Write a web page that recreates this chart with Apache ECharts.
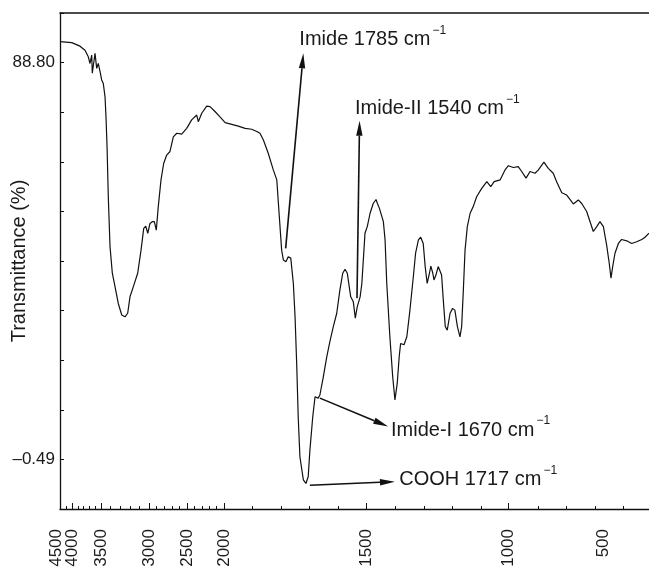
<!DOCTYPE html>
<html><head><meta charset="utf-8">
<script src="https://cdn.jsdelivr.net/npm/echarts@6/dist/echarts.min.js"></script>
<style>html,body{margin:0;padding:0;background:#fff}#c{width:649px;height:567px}</style>
</head><body><div id="c"></div>
<script>
// ---- data (wavenumber in cm^-1 as read against the printed axis labels) ----
const wavenumber = [4500,4429,4012,3862,3776,3719,3690,3660,3650,3603,3574,3547,3517,3493,3476,3458,3448,3437,3424,3406,3382,3354,3320,3284,3250,3222,3198,3163,3118,3083,3055,3034,3013,2987,2957,2930,2904,2878,2842,2807,2767,2724,2680,2635,2570,2504,2437,2369,2347,2301,2234,2189,2122,2054,1996,1973,1950,1926,1903,1885,1874,1862,1845,1827,1815,1807,1798,1792,1783,1775,1766,1757,1751,1745,1740,1734,1722,1713,1705,1699,1689,1681,1670,1664,1652,1640,1629,1617,1605,1594,1584,1576,1568,1556,1547,1540,1533,1523,1517,1506,1498,1488,1477,1467,1462,1455,1450,1441,1435,1429,1418,1408,1400,1392,1385,1380,1373,1368,1358,1347,1335,1327,1317,1309,1300,1293,1286,1278,1273,1266,1262,1255,1247,1241,1235,1229,1222,1215,1205,1196,1188,1179,1170,1164,1158,1152,1144,1134,1123,1111,1093,1075,1061,1049,1028,1011,998,972,946,928,905,884,858,841,811,788,762,744,717,691,665,656,630,612,586,568,551,533,516,498,481,467,458,449,437,419,402,375,349,323,296,279,258];
const transmittance = [93.5,93.5,93.3,92.5,91.6,90.1,88.6,90.5,86.4,90.9,87.5,88.6,86.8,84.9,84.1,81.1,76.6,69.9,58.6,47.4,41.4,38.4,34.6,32.0,31.6,32.4,36.1,38.4,41.4,46.6,51.5,52.0,50.4,52.6,53.0,53.0,51.1,56.4,62.4,66.1,68.0,68.8,72.1,72.9,72.7,74.0,75.9,77.0,75.5,77.4,79.0,78.9,77.8,76.6,75.3,74.9,74.5,74.0,73.8,73.3,72.9,71.4,68.4,64.6,62.4,54.9,46.6,44.4,44.0,45.1,44.8,39.1,31.6,20.4,9.1,0.1,-5.1,-5.9,-4.4,1.6,9.1,13.6,13.3,14.0,18.1,22.6,26.0,29.4,32.4,37.6,41.4,42.3,41.4,36.1,35.0,31.3,33.9,36.1,39.1,50.4,51.9,54.9,57.1,58.0,57.1,56.0,55.6,53.0,48.9,39.1,27.1,18.1,12.9,16.6,22.6,25.6,26.0,25.3,27.1,33.1,40.6,45.9,48.9,49.5,48.1,42.9,39.1,41.4,43.0,41.4,39.9,41.0,42.9,43.3,41.0,35.4,29.4,28.6,32.4,33.5,33.1,29.4,27.1,29.4,37.6,46.6,51.9,54.9,56.4,58.6,60.5,62.0,60.9,62.0,62.4,64.6,65.6,65.2,65.4,64.3,62.8,64.3,63.9,64.6,66.4,65.0,63.9,62.0,59.5,59.0,57.5,57.0,57.9,57.1,55.3,53.0,50.8,51.9,53.0,51.9,47.8,43.6,40.3,42.9,45.9,48.1,49.0,48.7,48.1,48.5,49.0,49.5,50.4];

const xTickValues = [4500,4000,3500,3000,2500,2000,1500,1000,500];
const xTickLabels = ['4500','4000','3500','3000','2500','2000','1500','1000','500'];
const yTickValues = [88.80,-0.49];
const yTickLabels = ['88.80','\u20130.49'];
const yAxisTitle = 'Transmittance (%)';

const annotationLabels = ['Imide 1785 cm','Imide-II 1540 cm','Imide-I 1670 cm','COOH 1717 cm'];
const annotationSup = '\u22121';
const annotationTextAt = [[1736,93.9],[1541,78.5],[1414,6.1],[1385,-5.1]];
const arrowFrom = [[1784,47.0],[1534,35.8],[1664,13.3],[1699,-6.3]];
const arrowTo = [[1722,90.9],[1525,75.7],[1424,6.9],[1400,-5.5]];

// ---- broken (piecewise) wavenumber scale of the printed axis ----
const wnStops   = [4500,4000,3500,3000,2500,2000,1500,1000,500,258];
const axisStops = [0,12,41,89,127,164,306.7,448,543,589];
function toAxis(w){
  for(let i=0;i<wnStops.length-1;i++){
    const a=wnStops[i], b=wnStops[i+1];
    if(w<=a && w>=b){ return axisStops[i]+(a-w)/(a-b)*(axisStops[i+1]-axisStops[i]); }
  }
  return w>wnStops[0]?axisStops[0]:axisStops[axisStops.length-1];
}
const majorTickPos = xTickValues.slice(1,8).map(toAxis);
const labelPos = xTickValues.map(toAxis);
const firstLabelPos = labelPos.slice(0,1);
const restLabelPos = labelPos.slice(1);
const minorTickPos = [];
minorTickPos.push(toAxis(4250));
for(let w=3900; w>2000; w-=100){ if(w%500) minorTickPos.push(toAxis(w)); }
const step=(toAxis(1500)-toAxis(2000))/5;
for(let k=1;k<15;k++){ if(k%5) minorTickPos.push(toAxis(2000)+k*step); }

const yMin=-11.65125, yInt=11.16125, yMax=yMin+10*yInt;
const ink='#1a1a1a';
const font='Liberation Sans, Arial, sans-serif';

function nearestLabel(v, pos, labels){
  let bi=0,bd=1e9; pos.forEach((p,i)=>{const d=Math.abs(p-v); if(d<bd){bd=d;bi=i;}}); return labels[bi];
}
const xLabelStyle = {rotate:90,margin:20,fontSize:17,color:ink,fontFamily:font,
  showMinLabel:true,showMaxLabel:true,hideOverlap:false,
  formatter:function(v){return nearestLabel(v,labelPos,xTickLabels);}};

const chart = echarts.init(document.getElementById('c'), null, {renderer:'canvas'});
chart.setOption({
  animation:false,
  backgroundColor:'#fff',
  grid:{left:60,right:0,top:13,bottom:58,containLabel:false,outerBoundsMode:'none'},
  xAxis:[
    {type:'value',min:0,max:589,position:'bottom',
     axisLine:{onZero:false,lineStyle:{color:'#111',width:1.3}},
     axisTick:{inside:true,length:6,customValues:majorTickPos,lineStyle:{color:'#111',width:1}},
     axisLabel:Object.assign({customValues:restLabelPos},xLabelStyle),
     splitLine:{show:false}},
    {type:'value',min:0,max:589,position:'bottom',
     axisLine:{show:false,onZero:false},
     axisTick:{inside:true,length:3,customValues:minorTickPos,lineStyle:{color:'#111',width:1}},
     axisLabel:Object.assign({customValues:firstLabelPos,verticalAlign:'bottom',lineHeight:8},xLabelStyle),
     splitLine:{show:false}},
    {type:'value',min:0,max:589,position:'top',
     axisLine:{show:true,onZero:false,lineStyle:{color:'#111',width:1.5}},
     axisTick:{show:false},axisLabel:{show:false},splitLine:{show:false}}
  ],
  yAxis:{type:'value',min:yMin,max:yMax,interval:yInt,
    name:yAxisTitle,nameLocation:'middle',nameGap:31,nameMoveOverlap:false,
    nameTextStyle:{fontSize:20,color:ink,fontFamily:font},
    axisLine:{show:true,onZero:false,lineStyle:{color:'#111',width:1.3}},
    axisTick:{show:true,inside:true,length:4,lineStyle:{color:'#111'}},
    axisLabel:{customValues:yTickValues,margin:5,fontSize:17,color:ink,fontFamily:font,
      formatter:function(v){return nearestLabel(v,yTickValues,yTickLabels);}},
    splitLine:{show:false}},
  series:[
    {type:'line',xAxisIndex:0,data:wavenumber.map((w,i)=>[toAxis(w),transmittance[i]]),
     showSymbol:false,symbol:'none',lineStyle:{color:'#111',width:1.2},silent:true},
    {type:'custom',xAxisIndex:0,silent:true,clip:false,
     data:arrowFrom.map((f,i)=>[toAxis(f[0]),f[1],toAxis(arrowTo[i][0]),arrowTo[i][1]]),
     renderItem:function(params,api){
       const p1=api.coord([api.value(0),api.value(1)]);
       const p2=api.coord([api.value(2),api.value(3)]);
       const dx=p2[0]-p1[0], dy=p2[1]-p1[1], len=Math.sqrt(dx*dx+dy*dy);
       const ux=dx/len, uy=dy/len, L=15, W=3.2;
       const bx=p2[0]-ux*L, by=p2[1]-uy*L;
       return {type:'group',children:[
         {type:'line',shape:{x1:p1[0],y1:p1[1],x2:bx,y2:by},style:{stroke:'#111',lineWidth:1.6}},
         {type:'polygon',shape:{points:[[p2[0],p2[1]],[bx-uy*W,by+ux*W],[bx+uy*W,by-ux*W]]},style:{fill:'#111'}}
       ]};
     }},
    {type:'scatter',xAxisIndex:0,symbolSize:0,itemStyle:{color:'#fff',opacity:1},silent:true,
     data:annotationTextAt.map((p,i)=>({value:[toAxis(p[0]),p[1]],
       label:{show:true,position:'right',distance:0,color:ink,opacity:1,
         formatter:'{m|'+annotationLabels[i]+'}{s|'+annotationSup+'}',
         rich:{m:{fontSize:20,color:ink,fontFamily:font},
               s:{fontSize:12,color:ink,fontFamily:font,padding:[0,0,18,2]}}}}))}
  ]
});
</script></body></html>
